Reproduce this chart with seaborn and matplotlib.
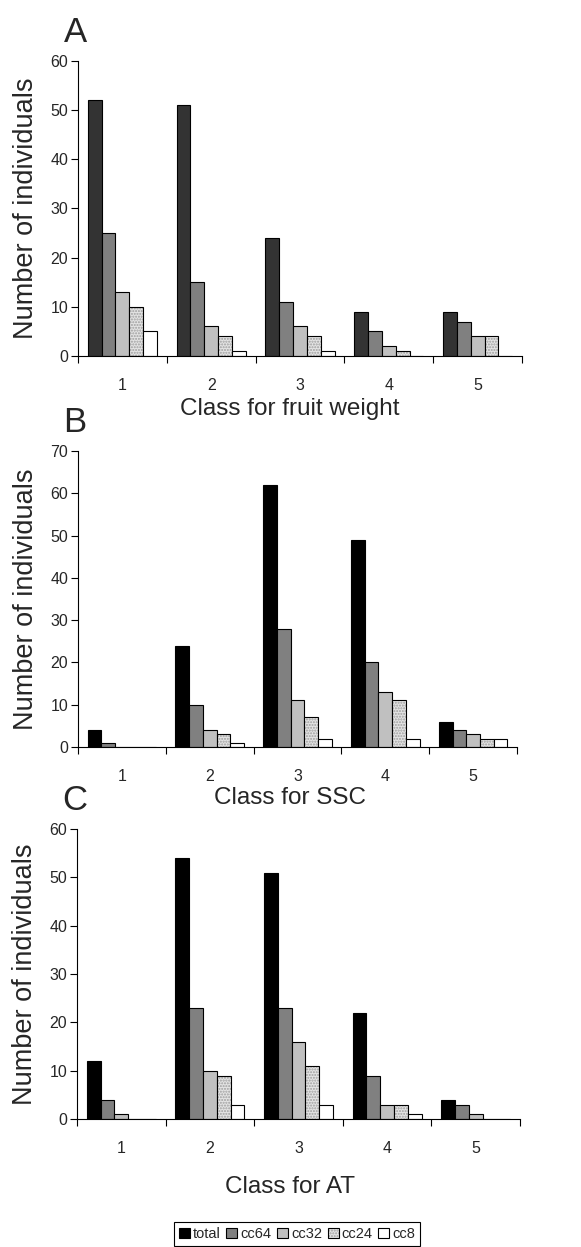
import numpy as np
import pandas as pd
import matplotlib
matplotlib.use("Agg")
import matplotlib.pyplot as plt
from matplotlib.patches import Patch
import seaborn as sns

classes = ["1", "2", "3", "4", "5"]
series = ["total", "cc64", "cc32", "cc24", "cc8"]

# Panel A: fruit weight
a_total = [52, 51, 24, 9, 9]
a_cc64 = [25, 15, 11, 5, 7]
a_cc32 = [13, 6, 6, 2, 4]
a_cc24 = [10, 4, 4, 1, 4]
a_cc8 = [5, 1, 1, 0, 0]

# Panel B: SSC
b_total = [4, 24, 62, 49, 6]
b_cc64 = [1, 10, 28, 20, 4]
b_cc32 = [0, 4, 11, 13, 3]
b_cc24 = [0, 3, 7, 11, 2]
b_cc8 = [0, 1, 2, 2, 2]

# Panel C: AT
c_total = [12, 54, 51, 22, 4]
c_cc64 = [4, 23, 23, 9, 3]
c_cc32 = [1, 10, 16, 3, 1]
c_cc24 = [0, 9, 11, 3, 0]
c_cc8 = [0, 3, 3, 1, 0]

panels = [
    ("A", "Class for fruit weight", [a_total, a_cc64, a_cc32, a_cc24, a_cc8], 60, "#333333"),
    ("B", "Class for SSC", [b_total, b_cc64, b_cc32, b_cc24, b_cc8], 70, "#000000"),
    ("C", "Class for AT", [c_total, c_cc64, c_cc32, c_cc24, c_cc8], 60, "#000000"),
]

sns.set_theme(style="ticks")
plt.rcParams["font.family"] = ["Liberation Sans", "DejaVu Sans"]

fig = plt.figure(figsize=(5.81, 12.47), dpi=100)
W, H = 581, 1247
boxes = [
    (78, 522, 61, 356),
    (78, 517, 451, 747),
    (77, 520, 829, 1119),
]
letter_y = [33, 422, 800]
label_pads = [3.5, 2, 14]

for i, (letter, xlabel, vals, ymax, tot_col) in enumerate(panels):
    l, r, t, b = boxes[i]
    ax = fig.add_axes([l / W, 1 - b / H, (r - l) / W, (b - t) / H])
    rows = []
    for s, v in zip(series, vals):
        for c, n in zip(classes, v):
            rows.append({"cls": c, "series": s, "n": n})
    df = pd.DataFrame(rows)
    pal = {"total": tot_col, "cc64": "#808080", "cc32": "#c0c0c0",
           "cc24": "#e4e4e4", "cc8": "#ffffff"}
    sns.barplot(data=df, x="cls", y="n", hue="series", order=classes,
                hue_order=series, palette=pal, width=0.78, saturation=1,
                edgecolor="black", linewidth=0.8, legend=False, ax=ax)
    for cont, s in zip(ax.containers, series):
        for p in cont:
            p.set_edgecolor("black")
            if s == "cc24":
                p.set_hatch("......")
                p._hatch_color = (0.62, 0.62, 0.62, 1)
    ax.set_xlim(-0.5, 4.5)
    ax.set_ylim(0, ymax)
    ax.set_yticks(np.arange(0, ymax + 1, 10))
    ax.set_xticks(range(5))
    ax.set_xticklabels(classes)
    ax.set_xticks(np.arange(-0.5, 5, 1), minor=True)
    ax.tick_params(axis="x", which="major", length=0, pad=16, labelsize=11.5)
    ax.tick_params(axis="x", which="minor", length=5, width=0.8, direction="out", color="black")
    ax.tick_params(axis="y", length=5, width=0.8, direction="out", labelsize=11.5, pad=2, color="black")
    ax.set_xlabel(xlabel, fontsize=17.5, labelpad=label_pads[i])
    ax.xaxis.label.set_x((290 - l) / (r - l))
    ax.set_ylabel("Number of individuals", fontsize=19.5, labelpad=8.5)
    for sp in ["top", "right"]:
        ax.spines[sp].set_visible(False)
    for sp in ["left", "bottom"]:
        ax.spines[sp].set_color("black")
        ax.spines[sp].set_linewidth(0.8)
    fig.text(75 / W, 1 - letter_y[i] / H, letter, fontsize=25, ha="center", va="center")

handles = []
for s, col in zip(series, ["#000000", "#808080", "#c0c0c0", "#e4e4e4", "#ffffff"]):
    h = Patch(facecolor=col, edgecolor="black", linewidth=0.8,
              hatch="......" if s == "cc24" else None, label=s)
    handles.append(h)
leg = fig.legend(handles=handles, loc="center", bbox_to_anchor=(297 / W, 1 - 1234 / H),
                 ncol=5, fontsize=10.5, frameon=True, fancybox=False, edgecolor="black",
                 framealpha=1, handlelength=0.75, handleheight=0.75, handletextpad=0.2,
                 columnspacing=0.4, borderpad=0.35)
leg.get_frame().set_linewidth(0.8)
for h in leg.legend_handles:
    if h.get_hatch():
        h._hatch_color = (0.62, 0.62, 0.62, 1)

fig.savefig("out.png", dpi=100)
